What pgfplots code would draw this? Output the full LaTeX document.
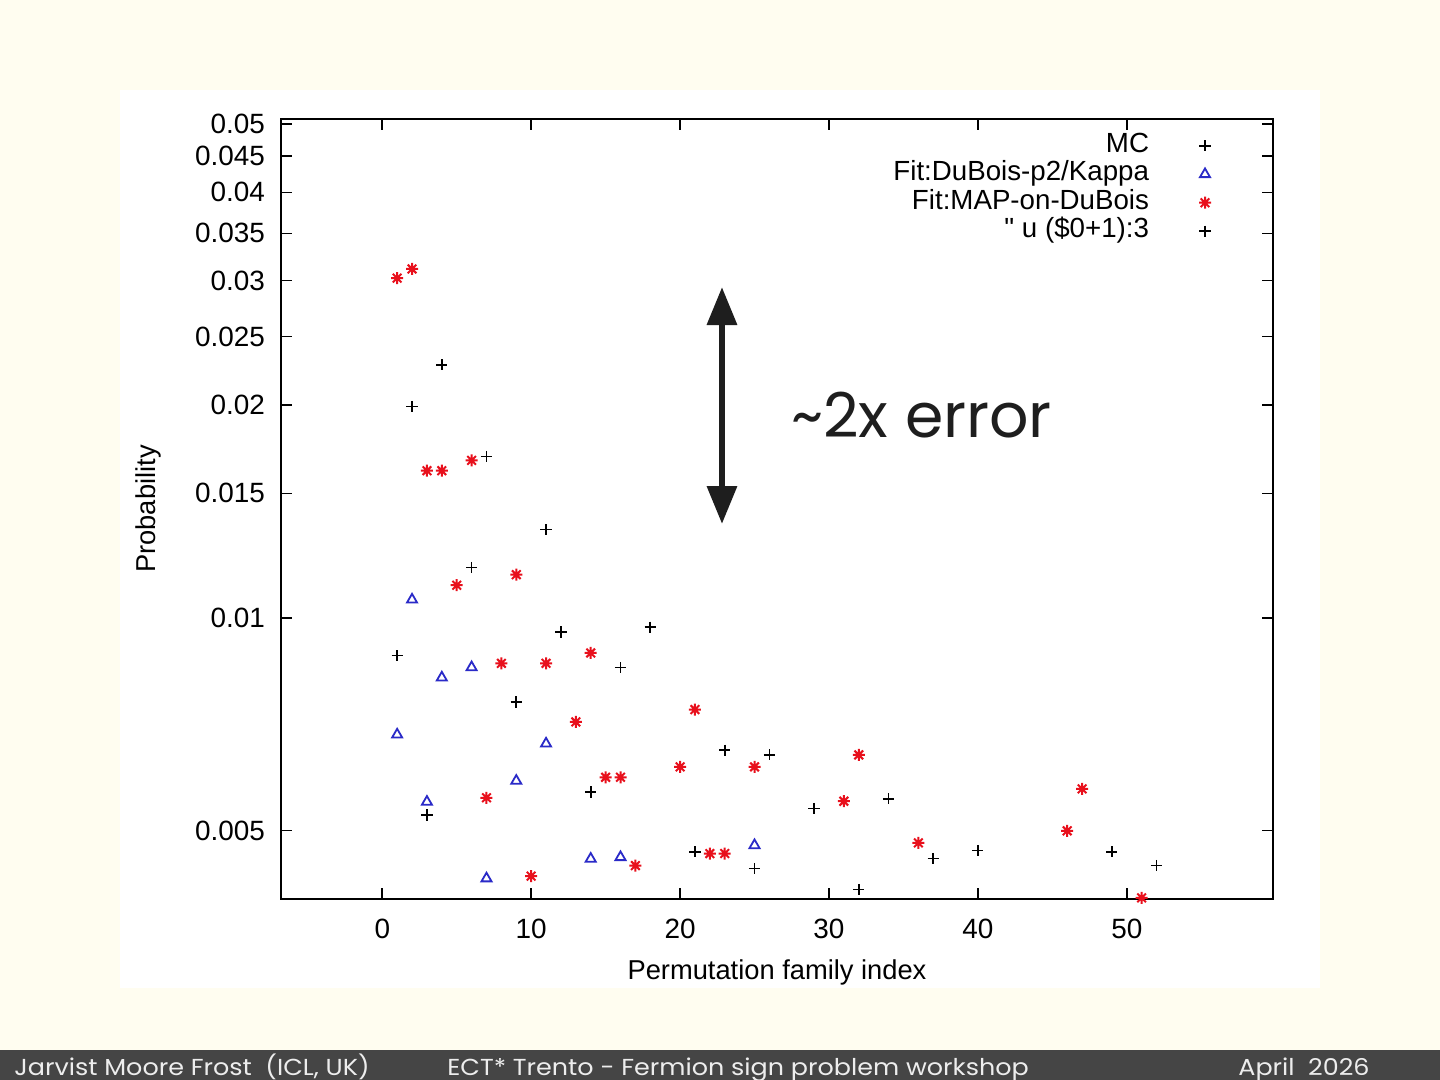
\documentclass[border=0pt]{standalone}
\usepackage{fontspec}
\setmainfont{Liberation Sans}
\newfontfamily\popfont{Poppins}
\newfontfamily\footfont{Poppins}[FakeStretch=1.1]
\newfontfamily\plainfont{Liberation Sans}[Ligatures=TeXOff]
\usepackage{pgfplots}
\pgfplotsset{compat=1.18}
\usetikzlibrary{arrows.meta}
\definecolor{cream}{HTML}{FFFDF0}
\definecolor{footbg}{HTML}{454545}
\definecolor{foottext}{HTML}{EDEDED}
\definecolor{gpred}{HTML}{E8101C}
\definecolor{gpblue}{HTML}{2A2AC8}
\definecolor{txtdark}{HTML}{1E1E1E}

\pgfdeclareplotmark{gpstar}{%
  \pgfpathmoveto{\pgfqpoint{-\pgfplotmarksize}{0pt}}%
  \pgfpathlineto{\pgfqpoint{\pgfplotmarksize}{0pt}}%
  \pgfpathmoveto{\pgfqpoint{0pt}{-\pgfplotmarksize}}%
  \pgfpathlineto{\pgfqpoint{0pt}{\pgfplotmarksize}}%
  \pgfpathmoveto{\pgfqpoint{-0.72\pgfplotmarksize}{-0.72\pgfplotmarksize}}%
  \pgfpathlineto{\pgfqpoint{0.72\pgfplotmarksize}{0.72\pgfplotmarksize}}%
  \pgfpathmoveto{\pgfqpoint{-0.72\pgfplotmarksize}{0.72\pgfplotmarksize}}%
  \pgfpathlineto{\pgfqpoint{0.72\pgfplotmarksize}{-0.72\pgfplotmarksize}}%
  \pgfusepathqstroke}

\pgfplotsset{
  gpleg/.style={legend image code/.code={\path (0bp,0bp); \draw[##1] plot coordinates {(27.5bp,0bp)};}},
}

\begin{document}
\begin{tikzpicture}
\useasboundingbox (0,0) rectangle (720bp,540bp);
\begin{scope}[x=0.5bp,y=0.5bp]
  \fill[cream] (0,0) rectangle (1440,1080);
  \fill[white] (120,92) rectangle (1320,990);
  \fill[footbg] (0,0) rectangle (1440,30.5);
  \node[anchor=base west, inner sep=0pt, text=foottext, font=\footfont\fontsize{11.6}{13}\selectfont] at (14,5) {Jarvist Moore Frost\ \ (ICL, UK)};
  \node[anchor=base west, inner sep=0pt, text=foottext, font=\footfont\fontsize{11.6}{13}\selectfont] at (447,5) {ECT* Trento - Fermion sign problem workshop};
  \node[anchor=base west, inner sep=0pt, text=foottext, font=\footfont\fontsize{11.6}{13}\selectfont] at (1238,5) {April\ \ 2026};
\end{scope}

\begin{axis}[
  at={(140.5bp,90.5bp)}, anchor=south west,
  scale only axis, width=496bp, height=390bp,
  xmin=-6.8, xmax=59.82, ymin=0.004, ymax=0.0508,
  ymode=log,
  ytick={0.005,0.01,0.015,0.02,0.025,0.03,0.035,0.04,0.045,0.05},
  yticklabels={0.005,0.01,0.015,0.02,0.025,0.03,0.035,0.04,0.045,0.05},
  xtick={0,10,20,30,40,50}, xticklabels={0,10,20,30,40,50},
  yminorticks=false, xminorticks=false,
  tick align=inside, xtick pos=both, ytick pos=both,
  major tick length=5.5bp,
  axis line style={line width=1bp},
  every tick/.style={black, line width=0.8bp},
  tick label style={font=\fontsize{14}{16}\selectfont},
  yticklabel style={xshift=-4.5bp},
  xticklabel style={yshift=-6.5bp},
  label style={font=\fontsize{13.7}{16}\selectfont},
  xlabel={Permutation family index}, ylabel={Probability},
  xlabel style={at={(axis description cs:0.5,-0.1038)}, anchor=base},
  ylabel style={at={(axis description cs:-0.134,0.5)}, anchor=center},
  legend style={draw=none, fill=none, inner sep=0pt, outer sep=0pt,
    at={(0.9375,0.984)}, anchor=north east,
    font=\fontsize{13.9}{16}\selectfont, row sep=0pt, column sep=0pt,
    nodes={inner sep=0pt, text height=10.5bp, text depth=3.75bp}},
  legend cell align=right, legend plot pos=right,
]
\addplot[only marks, mark=+, black, mark size=2.8bp, line width=0.8bp, gpleg] coordinates {
(1,0.00884) (2,0.01991) (3,0.00526) (4,0.02281) (6,0.01178) (7,0.01692)
(9,0.00760) (11,0.01333) (12,0.00955) (14,0.00567) (16,0.00850) (18,0.00970)
(21,0.004665) (23,0.006495) (25,0.004418) (26,0.006398) (29,0.005372)
(32,0.004126) (34,0.005544) (37,0.004564) (40,0.004685) (49,0.004665) (52,0.004461)
};
\addlegendentry{MC}
\addplot[only marks, mark=triangle, gpblue, mark size=2.9bp, line width=0.9bp, gpleg] coordinates {
(1,0.006835) (2,0.01061) (3,0.00549) (4,0.00823) (6,0.00851) (7,0.004277)
(9,0.005879) (11,0.006637) (14,0.00456) (16,0.004584) (25,0.004766)
};
\addlegendentry{Fit:DuBois-p2/Kappa}
\addplot[only marks, mark=gpstar, gpred, mark size=3bp, line width=1bp, gpleg] coordinates {
(1,0.03025) (2,0.03117) (3,0.01615) (4,0.01615) (5,0.01112) (6,0.01670)
(7,0.005563) (8,0.008623) (9,0.01151) (10,0.004310) (11,0.008623) (13,0.007123)
(14,0.008919) (15,0.005948) (16,0.005948) (17,0.004461) (20,0.006153)
(21,0.007416) (22,0.004639) (23,0.004639) (25,0.006153) (31,0.005501)
(32,0.006398) (36,0.004803) (46,0.004995) (47,0.005728) (51,0.004015)
};
\addlegendentry{Fit:MAP-on-DuBois}
\addlegendimage{only marks, mark=+, black, mark size=2.8bp, line width=0.8bp, gpleg}
\addlegendentry{{\plainfont"} u (\$0+1):3}
\end{axis}

\begin{scope}[x=0.5bp,y=0.5bp]
  \draw[txtdark, line width=3.2bp, {Triangle[length=19bp,width=14.5bp]}-{Triangle[length=19bp,width=14.5bp]}] (722,556) -- (722,793);
  \node[anchor=base west, inner sep=0pt, text=txtdark, font=\popfont\fontsize{31}{36}\selectfont] at (791,643) {\char"007E 2x error};
\end{scope}
\end{tikzpicture}
\end{document}
